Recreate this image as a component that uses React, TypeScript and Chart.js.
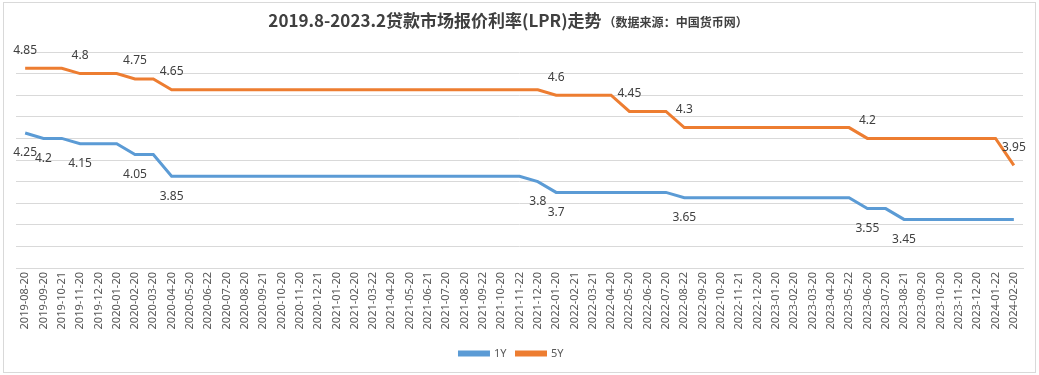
import React, { useEffect, useRef } from "react";
import { Chart, registerables } from "chart.js";

Chart.register(...registerables);

const categories: string[] = [
  "2019-08-20", "2019-09-20", "2019-10-21", "2019-11-20", "2019-12-20",
  "2020-01-20", "2020-02-20", "2020-03-20", "2020-04-20", "2020-05-20",
  "2020-06-22", "2020-07-20", "2020-08-20", "2020-09-21", "2020-10-20",
  "2020-11-20", "2020-12-21", "2021-01-20", "2021-02-20", "2021-03-22",
  "2021-04-20", "2021-05-20", "2021-06-21", "2021-07-20", "2021-08-20",
  "2021-09-22", "2021-10-20", "2021-11-22", "2021-12-20", "2022-01-20",
  "2022-02-21", "2022-03-21", "2022-04-20", "2022-05-20", "2022-06-20",
  "2022-07-20", "2022-08-22", "2022-09-20", "2022-10-20", "2022-11-21",
  "2022-12-20", "2023-01-20", "2023-02-20", "2023-03-20", "2023-04-20",
  "2023-05-22", "2023-06-20", "2023-07-20", "2023-08-21", "2023-09-20",
  "2023-10-20", "2023-11-20", "2023-12-20", "2024-01-22", "2024-02-20",
];

const lpr1Y: number[] = [
  4.25, 4.2, 4.2, 4.15, 4.15, 4.15, 4.05, 4.05, 3.85, 3.85,
  3.85, 3.85, 3.85, 3.85, 3.85, 3.85, 3.85, 3.85, 3.85, 3.85,
  3.85, 3.85, 3.85, 3.85, 3.85, 3.85, 3.85, 3.85, 3.8, 3.7,
  3.7, 3.7, 3.7, 3.7, 3.7, 3.7, 3.65, 3.65, 3.65, 3.65,
  3.65, 3.65, 3.65, 3.65, 3.65, 3.65, 3.55, 3.55, 3.45, 3.45,
  3.45, 3.45, 3.45, 3.45, 3.45,
];

const lpr5Y: number[] = [
  4.85, 4.85, 4.85, 4.8, 4.8, 4.8, 4.75, 4.75, 4.65, 4.65,
  4.65, 4.65, 4.65, 4.65, 4.65, 4.65, 4.65, 4.65, 4.65, 4.65,
  4.65, 4.65, 4.65, 4.65, 4.65, 4.65, 4.65, 4.65, 4.65, 4.6,
  4.6, 4.6, 4.6, 4.45, 4.45, 4.45, 4.3, 4.3, 4.3, 4.3,
  4.3, 4.3, 4.3, 4.3, 4.3, 4.3, 4.2, 4.2, 4.2, 4.2,
  4.2, 4.2, 4.2, 4.2, 3.95,
];

const seriesNames: string[] = ["1Y", "5Y"];
const titleMain = "2019.8-2023.2贷款市场报价利率(LPR)走势";
const titleSub = "（数据来源：中国货币网）";

const BLUE = "#5B9BD5";
const ORANGE = "#ED7D31";

const decorPlugin = {
  id: "decor",
  beforeDraw(chart: any) {
    const ctx = chart.ctx;
    ctx.save();
    ctx.fillStyle = "#ffffff";
    ctx.fillRect(0, 0, chart.width, chart.height);
    ctx.strokeStyle = "#D9D9D9";
    ctx.lineWidth = 1;
    ctx.strokeRect(3.5, 2.5, chart.width - 7, chart.height - 5);
    ctx.restore();
  },
  afterDraw(chart: any) {
    const ctx = chart.ctx;
    ctx.save();
    ctx.fillStyle = "#404040";
    ctx.textBaseline = "middle";
    ctx.textAlign = "left";
    const mainFont = "bold 17px 'Noto Sans CJK SC', 'Noto Sans', sans-serif";
    const subFont = "bold 12px 'Noto Sans CJK SC', 'Noto Sans', sans-serif";
    ctx.font = mainFont;
    const w1 = ctx.measureText(titleMain).width;
    ctx.font = subFont;
    const w2 = ctx.measureText(titleSub).width;
    const total = w1 + 2 + w2;
    const start = 508 - total / 2;
    ctx.font = mainFont;
    ctx.fillText(titleMain, start, 21);
    ctx.font = subFont;
    ctx.fillText(titleSub, start + w1 + 2, 22);
    ctx.restore();
  },
  afterDatasetsDraw(chart: any) {
    const ctx = chart.ctx;
    ctx.save();
    ctx.font = "12px 'Noto Sans', sans-serif";
    ctx.fillStyle = "#404040";
    ctx.textAlign = "center";
    ctx.textBaseline = "middle";
    chart.data.datasets.forEach((ds: any, di: number) => {
      const meta = chart.getDatasetMeta(di);
      const vals = ds.data as number[];
      vals.forEach((v, i) => {
        if (i > 0 && vals[i - 1] === v) return;
        const pt = meta.data[i];
        const dy = di === 0 ? 20 : -18;
        ctx.fillText(String(v), pt.x, pt.y + dy);
      });
    });
    ctx.restore();
  },
};

export default function App() {
  const ref = useRef<HTMLCanvasElement | null>(null);
  useEffect(() => {
    document.body.style.margin = "0";
    const canvas = ref.current;
    if (!canvas) return;
    const chart = new Chart(canvas, {
      type: "line",
      data: {
        labels: categories,
        datasets: [
          {
            label: seriesNames[0],
            data: lpr1Y,
            borderColor: BLUE,
            backgroundColor: BLUE,
            borderWidth: 3,
            pointRadius: 0,
            tension: 0,
          },
          {
            label: seriesNames[1],
            data: lpr5Y,
            borderColor: ORANGE,
            backgroundColor: ORANGE,
            borderWidth: 3,
            pointRadius: 0,
            tension: 0,
          },
        ],
      },
      options: {
        animation: false,
        responsive: false,
        devicePixelRatio: 1,
        layout: { padding: { left: 0, right: 16, top: 52, bottom: 6 } },
        plugins: {
          title: { display: false },
          tooltip: { enabled: false },
          legend: {
            display: true,
            position: "bottom",
            labels: {
              boxWidth: 29,
              boxHeight: 3,
              padding: 10,
              color: "#595959",
              font: { size: 11, family: "'Noto Sans', sans-serif" },
            },
          },
        },
        scales: {
          x: {
            offset: true,
            grid: { display: false, drawTicks: false },
            border: { display: true, color: "#D9D9D9", width: 1 },
            ticks: {
              autoSkip: false,
              minRotation: 90,
              maxRotation: 90,
              padding: 4,
              color: "#595959",
              font: { size: 11, family: "'Noto Sans', sans-serif" },
            },
            afterFit: (s: any) => {
              s.height = 70;
            },
          },
          y: {
            min: 3.0,
            max: 5.0,
            ticks: { display: false, stepSize: 0.2 },
            grid: { color: "#D9D9D9", drawTicks: false, lineWidth: 1 },
            border: { display: false },
            afterFit: (s: any) => {
              s.width = 16;
            },
          },
        },
      },
      plugins: [decorPlugin],
    });
    return () => chart.destroy();
  }, []);
  return <canvas ref={ref} width={1039} height={375} style={{ display: "block" }} />;
}
